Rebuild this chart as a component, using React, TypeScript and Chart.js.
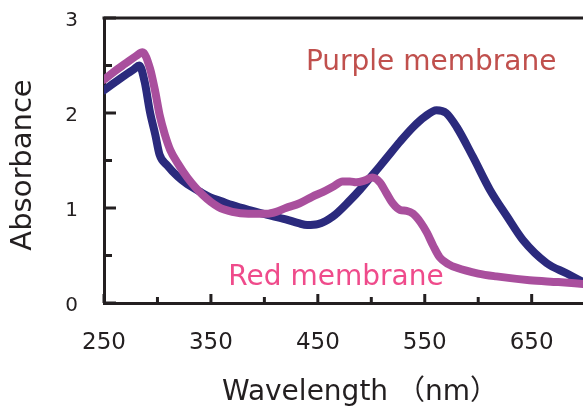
import React, { useEffect, useRef } from 'react';
import { Chart, registerables } from 'chart.js';

Chart.register(...registerables);

// ---- Data ----
const purpleWavelengths = [250, 260, 270, 278, 283, 288, 293, 298, 302, 309, 319, 328, 340, 350, 360, 370, 385, 402, 420, 432, 440, 450, 464, 480, 490, 499, 508, 516, 527, 539, 550, 561, 570, 580, 595, 611, 627, 642, 664, 683, 698];
const purpleAbsorbance = [2.24, 2.32, 2.40, 2.46, 2.50, 2.33, 2.01, 1.77, 1.56, 1.45, 1.33, 1.25, 1.17, 1.11, 1.07, 1.03, 0.98, 0.93, 0.88, 0.84, 0.82, 0.83, 0.91, 1.08, 1.20, 1.32, 1.44, 1.55, 1.70, 1.85, 1.96, 2.03, 2.00, 1.85, 1.54, 1.19, 0.91, 0.66, 0.42, 0.31, 0.22];

const redWavelengths = [250, 260, 270, 280, 286, 293, 298, 302, 307, 312, 319, 328, 342, 357, 370, 385, 402, 411, 420, 433, 445, 455, 465, 473, 480, 486, 494, 501, 508, 514, 520, 527, 533, 539, 546, 552, 558, 564, 572, 580, 600, 617, 648, 675, 698];
const redAbsorbance = [2.35, 2.44, 2.52, 2.60, 2.64, 2.47, 2.22, 1.98, 1.77, 1.61, 1.47, 1.32, 1.14, 1.01, 0.96, 0.94, 0.94, 0.96, 1.00, 1.05, 1.12, 1.17, 1.23, 1.28, 1.28, 1.27, 1.29, 1.32, 1.27, 1.16, 1.05, 0.98, 0.97, 0.94, 0.85, 0.74, 0.60, 0.48, 0.41, 0.37, 0.31, 0.28, 0.24, 0.22, 0.20];

const seriesNames = ['Purple membrane', 'Red membrane'];
const xTickValues = [250, 300, 350, 400, 450, 500, 550, 600, 650];
const xLabelValues = [250, 350, 450, 550, 650];
const yTickValues = [0, 0.5, 1, 1.5, 2, 2.5, 3];
const yLabelValues = [0, 1, 2, 3];
const xTitle = 'Wavelength （nm）';
const yTitle = 'Absorbance';

// ---- Styles ----
const FONT = "'DejaVu Sans', 'Noto Sans CJK JP', sans-serif";
const AXIS = '#231f20';
const PURPLE_LINE = '#2b2a7d';
const RED_LINE = '#a94f9d';
const PURPLE_LABEL = '#c0504d';
const RED_LABEL = '#ef4b8b';

const decorPlugin = {
  id: 'decor',
  beforeDatasetsDraw(chart: any) {
    const { ctx, chartArea, scales } = chart;
    const x = scales.x;
    const y = scales.y;
    ctx.save();
    ctx.strokeStyle = AXIS;
    ctx.lineWidth = 3;
    ctx.lineCap = 'butt';
    // top frame line
    const topY = y.getPixelForValue(3);
    ctx.beginPath();
    ctx.moveTo(chartArea.left - 1.5, topY);
    ctx.lineTo(chartArea.right, topY);
    ctx.stroke();
    // inward x tick marks
    xTickValues.forEach((v) => {
      const px = x.getPixelForValue(v);
      const len = xLabelValues.includes(v) ? 9 : 6;
      ctx.beginPath();
      ctx.moveTo(px, chartArea.bottom);
      ctx.lineTo(px, chartArea.bottom - len);
      ctx.stroke();
    });
    // inward y tick marks
    yTickValues.forEach((v) => {
      const py = y.getPixelForValue(v);
      const len = yLabelValues.includes(v) ? 12 : 8;
      ctx.beginPath();
      ctx.moveTo(chartArea.left, py);
      ctx.lineTo(chartArea.left + len, py);
      ctx.stroke();
    });
    ctx.restore();
  },
  afterDraw(chart: any) {
    const { ctx, scales } = chart;
    const x = scales.x;
    const y = scales.y;
    ctx.save();
    // series annotations
    ctx.textAlign = 'center';
    ctx.textBaseline = 'alphabetic';
    ctx.font = `28px ${FONT}`;
    ctx.fillStyle = PURPLE_LABEL;
    ctx.fillText(seriesNames[0], x.getPixelForValue(556), y.getPixelForValue(2.45));
    ctx.fillStyle = RED_LABEL;
    ctx.fillText(seriesNames[1], x.getPixelForValue(467), y.getPixelForValue(0.19));
    // axis titles
    ctx.fillStyle = AXIS;
    ctx.font = `28px ${FONT}`;
    ctx.textAlign = 'left';
    ctx.fillText(xTitle, 222, 400);
    ctx.translate(23, 165);
    ctx.rotate(-Math.PI / 2);
    ctx.font = `29px ${FONT}`;
    ctx.textAlign = 'center';
    ctx.textBaseline = 'middle';
    ctx.fillText(yTitle, 0, 0);
    ctx.restore();
  },
};

export default function App() {
  const canvasRef = useRef<HTMLCanvasElement | null>(null);

  useEffect(() => {
    const canvas = canvasRef.current;
    if (!canvas) return;
    const chart = new Chart(canvas, {
      type: 'line',
      data: {
        datasets: [
          {
            label: seriesNames[0],
            data: purpleWavelengths.map((w, i) => ({ x: w, y: purpleAbsorbance[i] })),
            borderColor: PURPLE_LINE,
            backgroundColor: PURPLE_LINE,
            borderWidth: 8,
            pointRadius: 0,
            cubicInterpolationMode: 'monotone',
            borderCapStyle: 'round',
            borderJoinStyle: 'round',
            order: 2,
          },
          {
            label: seriesNames[1],
            data: redWavelengths.map((w, i) => ({ x: w, y: redAbsorbance[i] })),
            borderColor: RED_LINE,
            backgroundColor: RED_LINE,
            borderWidth: 8,
            pointRadius: 0,
            cubicInterpolationMode: 'monotone',
            borderCapStyle: 'round',
            borderJoinStyle: 'round',
            order: 1,
          },
        ],
      },
      options: {
        responsive: false,
        animation: false,
        layout: { padding: { top: 18, right: 0, bottom: 0, left: 0 } },
        plugins: { legend: { display: false }, tooltip: { enabled: false } },
        scales: {
          x: {
            type: 'linear',
            min: 250,
            max: 698,
            afterBuildTicks: (scale: any) => {
              scale.ticks = xTickValues.map((v) => ({ value: v }));
            },
            afterFit: (scale: any) => {
              scale.height = 105;
            },
            grid: { display: false, drawTicks: false },
            border: { display: true, color: AXIS, width: 3 },
            ticks: {
              autoSkip: false,
              maxRotation: 0,
              padding: 26,
              color: AXIS,
              font: { family: FONT, size: 23 },
              callback: (v: any) => (xLabelValues.includes(Number(v)) ? String(v) : ''),
            },
          },
          y: {
            type: 'linear',
            min: 0,
            max: 3,
            afterBuildTicks: (scale: any) => {
              scale.ticks = yTickValues.map((v) => ({ value: v }));
            },
            afterFit: (scale: any) => {
              scale.width = 104;
            },
            grid: { display: false, drawTicks: true, tickLength: 26 },
            border: { display: true, color: AXIS, width: 3 },
            ticks: {
              autoSkip: false,
              padding: 0,
              labelOffset: 3,
              color: AXIS,
              font: { family: FONT, size: 20 },
              callback: (v: any) => (yLabelValues.includes(Number(v)) ? String(v) : ''),
            },
          },
        },
      },
      plugins: [decorPlugin],
    });
    return () => chart.destroy();
  }, []);

  return (
    <div style={{ position: 'absolute', left: 0, top: 0, width: 583, height: 408, overflow: 'hidden', background: '#fff' }}>
      <canvas ref={canvasRef} width={583} height={408} />
    </div>
  );
}
